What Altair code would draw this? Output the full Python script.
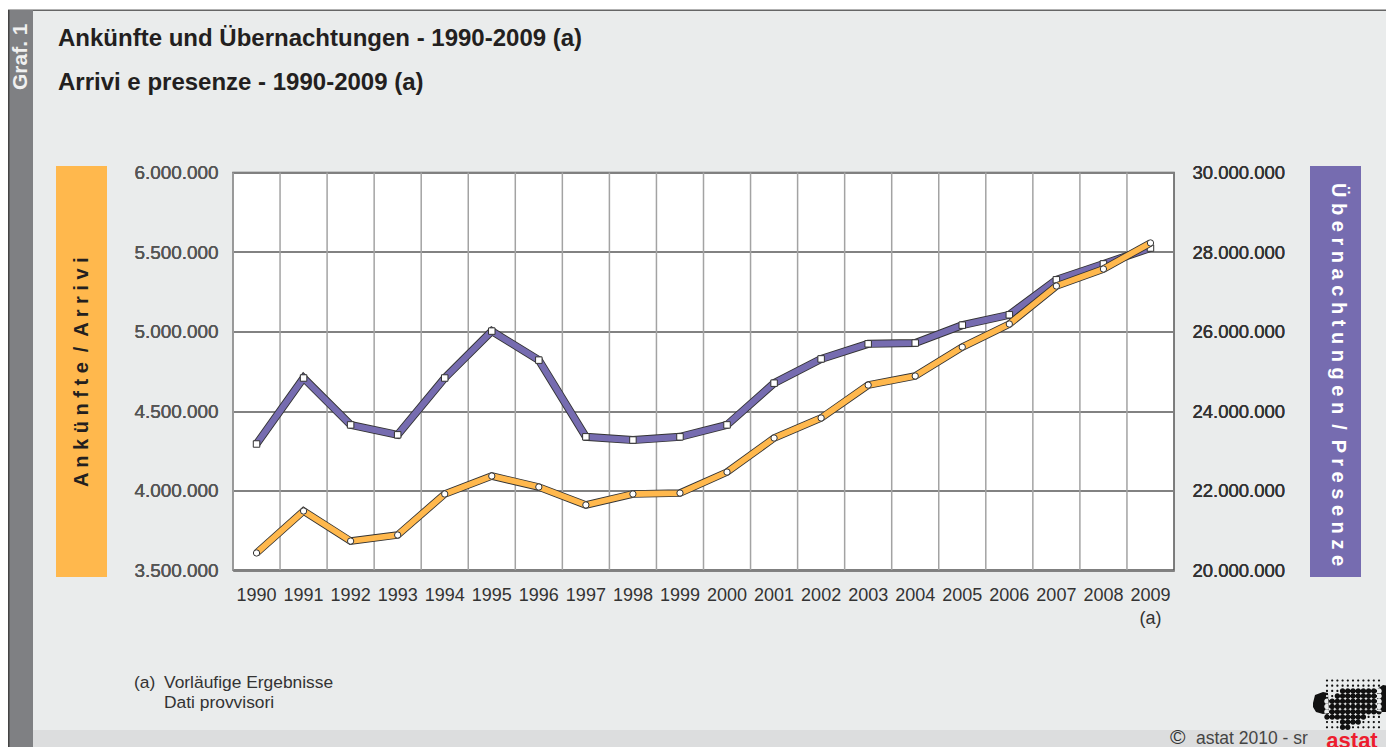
import altair as alt
import pandas as pd

years = list(range(1990, 2010))
arrivi = [3607000, 3871000, 3682000, 3720000, 3978000, 4091000, 4022000, 3909000, 3978000, 3984000,
          4116000, 4330000, 4456000, 4663000, 4720000, 4902000, 5047000, 5286000, 5393000, 5557000]
presenze = [23170000, 24830000, 23650000, 23400000, 24830000, 26010000, 25280000, 23350000, 23270000, 23350000,
            23650000, 24700000, 25310000, 25690000, 25710000, 26160000, 26420000, 27300000, 27700000, 28100000]
left_ticks = [3500000, 4000000, 4500000, 5000000, 5500000, 6000000]
right_ticks = [20000000, 22000000, 24000000, 26000000, 28000000, 30000000]

FONT = "Liberation Sans"
ORANGE = "#ffb84d"
PURPLE = "#766cb0"
OUTLINE = "#333333"
OX, OY = 225, 164.5   # page position of the plot origin, less the 8px page margin
W, H = 941, 397.5

df = pd.DataFrame({"year": [str(y) for y in years], "arrivi": arrivi, "presenze": presenze})
one = pd.DataFrame({"a": [0]})
xscale = alt.Scale(domain=[str(y) for y in years], paddingInner=0, paddingOuter=0)


def px(x):
    return x - 8 - OX


def py(y):
    return y - 8 - OY


def rect(x0, y0, x1, y1, color):
    return alt.Chart(one).mark_rect(color=color, opacity=1).encode(
        x=alt.value(px(x0)), x2=alt.value(px(x1)), y=alt.value(py(y0)), y2=alt.value(py(y1)))


def text(s, x, y, size, color="#333333", bold=False, align="left", angle=0, baseline="alphabetic"):
    return alt.Chart(one).mark_text(
        text=s, font=FONT, fontSize=size, color=color, fontWeight="bold" if bold else "normal",
        align=align, angle=angle, baseline=baseline).encode(x=alt.value(px(x)), y=alt.value(py(y)))


def spaced(*words):
    return "\u2002".join(" ".join(w) for w in words)


# Logo: a dotted grid with two solid flanks, as one path in pixels around its centre
def circle(cx, cy, r):
    return f"M{cx - r:.2f},{cy:.2f}a{r},{r} 0 1,0 {2 * r},0a{r},{r} 0 1,0 {-2 * r},0z"


big_cols = {2: range(3, 11), 3: range(2, 11), 4: range(0, 11), 5: range(0, 11), 6: range(0, 11),
            7: range(0, 8), 8: range(3, 7), 9: range(3, 5)}
logo = []
for row in range(10):
    for col in range(11):
        big = col in big_cols.get(row, ())
        logo.append(circle(-26 + col * 5.2, -24.5 + row * 5.2, 2.75 if big else 1.1))
logo.append("M-40,-2L-38,-10L-30,-13L-25,-12L-24,8L-30,9L-37,7L-40,2Z")
logo.append("M24,-16L30,-20L35,-19L34,-12L37,-5L40,2L37,7L30,7L24,6Z")
logo_path = "".join(logo)

layers = [
    rect(8, 8, 1394, 10, "#ffffff"),
    rect(8, 9.5, 1394, 11, "#666666"),
    rect(8, 10, 33, 747, "#7f8083"),
    rect(8, 10, 9.5, 747, "#444444"),
    rect(33, 730, 1394, 747, "#dcddde"),
    rect(56, 166, 107, 577, ORANGE),
    rect(1310, 166, 1361, 577, PURPLE),
    text("Graf. 1", 21, 90, 21, "#f0f0f0", True, angle=270, baseline="middle"),
    text("Ankünfte und Übernachtungen - 1990-2009 (a)", 58, 46, 24, "#231f20", True),
    text("Arrivi e presenze - 1990-2009 (a)", 58, 90, 24, "#231f20", True),
    text(spaced("Ankünfte", "/", "Arrivi"), 82, 487, 20, "#231f20", True, angle=270, baseline="middle"),
    text(spaced("Übernachtungen", "/", "Presenze"), 1338, 183, 20, "#ffffff", True, angle=90, baseline="middle"),
    text("(a)", 134, 688, 17.4),
    text("Vorläufige Ergebnisse", 164, 688, 17.4),
    text("Dati provvisori", 164, 708, 17.4),
    text("©", 1170, 744, 21),
    text("astat 2010 - sr", 1196, 744, 17.5, "#444444"),
    alt.Chart(one).mark_point(shape=logo_path, size=4, filled=True, color="#111111", opacity=1).encode(
        x=alt.value(px(1353)), y=alt.value(py(705))),
    text("astat", 1352, 748, 22, "#ed1c2e", True, align="center"),
]

base = alt.Chart(df)
x_axis = alt.Axis(labelAngle=0, labelFont=FONT, labelFontSize=18, labelColor="#333333",
                  labelPadding=16, ticks=False, domain=False, labelOverlap=False)
x = alt.X("year:N", scale=xscale, title=None, axis=x_axis)

vgrid = base.mark_rule(color="#a3a3a3", strokeWidth=1.5).encode(
    x=alt.X("year:N", scale=xscale, bandPosition=0, title=None, axis=x_axis))

y_left = alt.Y("arrivi:Q", scale=alt.Scale(domain=[3500000, 6000000], nice=False, zero=False), title=None,
               axis=alt.Axis(orient="left", values=left_ticks, labelExpr="replace(format(datum.value, ','), /,/g, '.')",
                             labelFont=FONT, labelFontSize=18.9, labelColor="#555555", labelPadding=15,
                             ticks=False, domain=False, grid=True, gridColor="#808080", gridWidth=1.5))
y_right = alt.Y("presenze:Q", scale=alt.Scale(domain=[20000000, 30000000], nice=False, zero=False), title=None,
                axis=alt.Axis(orient="right", values=right_ticks, labelExpr="replace(format(datum.value, ','), /,/g, '.')",
                              labelFont=FONT, labelFontSize=18.5, labelColor="#333333", labelPadding=18,
                              ticks=False, domain=False, grid=False))

pres_o = base.mark_line(color=OUTLINE, strokeWidth=8, strokeCap="butt", strokeJoin="miter").encode(x=x, y=y_right)
pres_c = base.mark_line(color=PURPLE, strokeWidth=6.2, strokeCap="butt", strokeJoin="miter").encode(x=x, y=y_right)
pres_m = base.mark_point(shape="square", size=42, filled=True, fill="#ffffff", stroke=OUTLINE, strokeWidth=1, opacity=1).encode(x=x, y=y_right)
arr_o = base.mark_line(color=OUTLINE, strokeWidth=7.5, strokeCap="butt", strokeJoin="miter").encode(x=x, y=y_left)
arr_c = base.mark_line(color=ORANGE, strokeWidth=5.8, strokeCap="butt", strokeJoin="miter").encode(x=x, y=y_left)
arr_m = base.mark_point(shape="circle", size=40, filled=True, fill="#ffffff", stroke=OUTLINE, strokeWidth=1, opacity=1).encode(x=x, y=y_left)

note = alt.Chart(pd.DataFrame({"year": ["2009"], "t": ["(a)"]})).mark_text(
    font=FONT, fontSize=18, color="#333333", baseline="alphabetic").encode(
    x=alt.X("year:N", scale=xscale, title=None, axis=x_axis), y=alt.value(py(624)), text="t:N")

chart = alt.layer(*layers, vgrid, pres_o, pres_c, pres_m, arr_o, arr_c, arr_m, note).resolve_scale(
    y="independent"
).properties(
    width=W, height=H, background="#eaecec",
    padding={"left": OX, "top": OY, "right": 1378 - OX - W, "bottom": 739 - OY - H},
    autosize=alt.AutoSizeParams(type="none"),
).configure_view(fill="#ffffff", stroke="#555555", strokeWidth=1.5)

chart.save("out.html", embed_options={"renderer": "svg", "actions": False})
